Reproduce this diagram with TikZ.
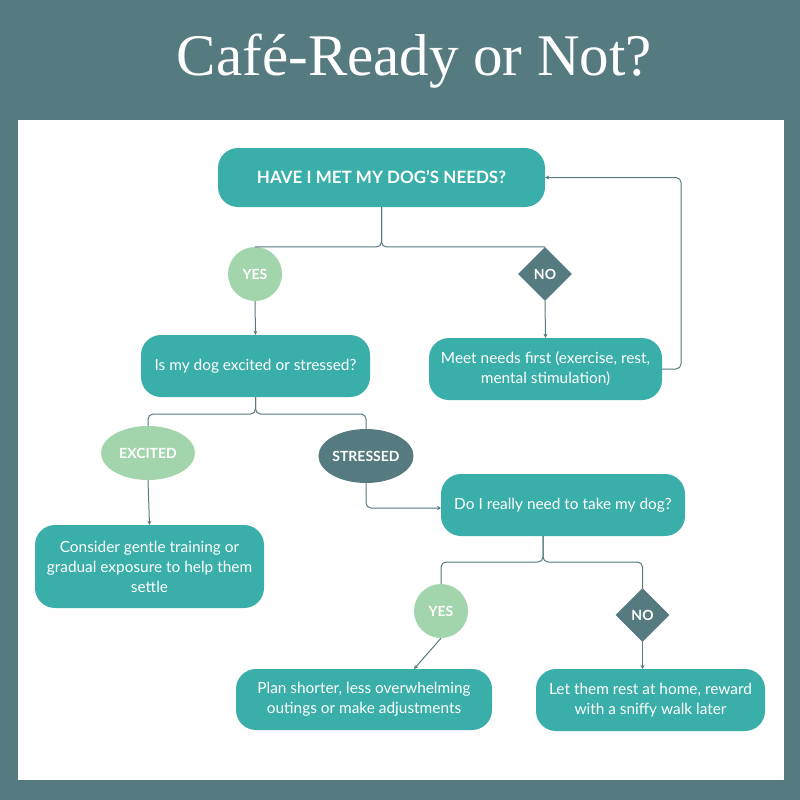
\documentclass[tikz,border=0pt]{standalone}
\usepackage{fontspec}
\setmainfont{Lato}
\newfontfamily\titlefont{Liberation Serif}
\usetikzlibrary{shapes}
\usetikzlibrary{arrows.meta}
\definecolor{slate}{HTML}{557A80}
\definecolor{teal}{HTML}{3AAEA8}
\definecolor{sage}{HTML}{A3D5AC}
\tikzset{
  stepbox/.style={fill=teal,text=white,rounded corners=20pt,align=center,inner sep=0pt,font=\fontsize{15.4}{20}\selectfont},
  tag/.style={text=white,inner sep=0pt,font=\fontsize{14}{17}\selectfont\bfseries},
  link/.style={slate,line width=1pt,rounded corners=5pt,-{Stealth[length=4pt,width=4pt]}},
}
\begin{document}
\begin{tikzpicture}[x=1pt,y=-1pt]
\useasboundingbox (0,0) rectangle (800,800);
\fill[slate] (0,0) rectangle (800,800);
\fill[white] (18,120) rectangle (784,780);
\node[text=white,font=\titlefont\fontsize{59}{60}\selectfont] (title) at (414.5,61) {Café-Ready or Not?};
\node[stepbox,minimum width=327pt,minimum height=59pt,font=\fontsize{17}{20}\selectfont\bfseries] (need) at (381.5,177.5) {HAVE I MET MY DOG’S NEEDS?};
\node[tag,circle,fill=sage,minimum size=54pt] (yesA) at (255,274) {YES};
\node[tag,diamond,aspect=1,fill=slate,minimum size=54pt] (noA) at (545,274) {NO};
\node[stepbox,minimum width=229pt,minimum height=62pt] (asked) at (255.5,366) {Is my dog excited or stressed?};
\node[stepbox,minimum width=233pt,minimum height=62pt] (meet) at (545.5,369) {Meet needs first (exercise, rest,\\mental stimulation)};
\node[tag,ellipse,fill=sage,minimum width=94pt,minimum height=54pt] (excited) at (148,453) {EXCITED};
\node[tag,ellipse,fill=slate,minimum width=94pt,minimum height=54pt] (stressed) at (366,456) {STRESSED};
\node[stepbox,minimum width=244pt,minimum height=62pt] (really) at (563,505) {Do I really need to take my dog?};
\node[stepbox,minimum width=229pt,minimum height=83pt] (gentle) at (149.5,566.5) {Consider gentle training or\\gradual exposure to help them\\settle};
\node[tag,circle,fill=sage,minimum size=54pt] (yesB) at (441,611) {YES};
\node[tag,diamond,aspect=1,fill=slate,minimum size=54pt] (noB) at (642.5,615) {NO};
\node[stepbox,minimum width=256pt,minimum height=61pt] (plan) at (364,699.5) {Plan shorter, less overwhelming\\outings or make adjustments};
\node[stepbox,minimum width=229pt,minimum height=62pt] (rest) at (650.5,700) {Let them rest at home, reward\\with a sniffy walk later};
\coordinate (forkA) at (381.5,247);
\coordinate (forkB) at (255.5,414);
\coordinate (forkC) at (543,562);
\coordinate (stemC) at (543,536);
\coordinate (loopA) at (681,369);
\coordinate (enterA) at (441,508);
\coordinate (enterB) at (414,669);
\coordinate (enterC) at (642.5,669);
\draw[link,-] (need.south) -- (forkA) -- (yesA.north);
\draw[link,-] (need.south) -- (forkA) -- (noA.north);
\draw[link] (yesA.south) -- (asked.north);
\draw[link] (noA.south) -- (meet.north);
\draw[link] (meet.east) -- (loopA) |- (need.east);
\draw[link,-] (asked.south) -- (forkB) -| (excited.north);
\draw[link,-] (asked.south) -- (forkB) -| (stressed.north);
\draw[link] (excited.south) -- (gentle.north);
\draw[link] (stressed.south) |- (enterA);
\draw[link,-] (stemC) -- (forkC) -| (yesB.north);
\draw[link,-] (stemC) -- (forkC) -| (noB.north);
\draw[link] (yesB.south) -- (enterB);
\draw[link] (noB.south) -- (enterC);
\end{tikzpicture}
\end{document}
